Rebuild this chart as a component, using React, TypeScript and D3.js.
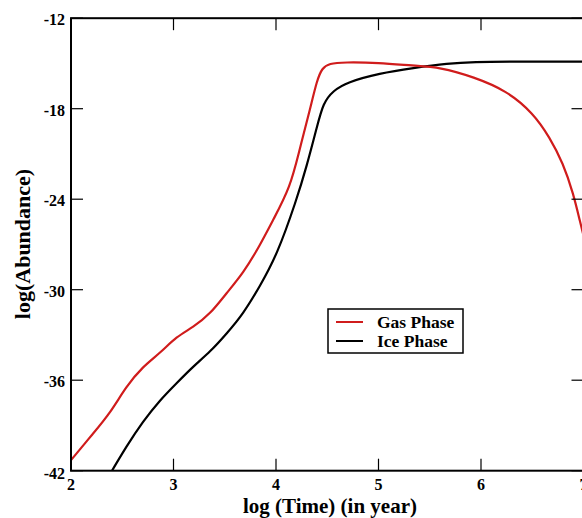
import React from "react";
import * as d3 from "d3";

const gasX = [2.0, 2.22, 2.38, 2.54, 2.7, 2.87, 3.03, 3.19, 3.36, 3.52, 3.68, 3.84, 3.97, 4.14, 4.23, 4.33, 4.4, 4.45, 4.52, 4.66, 5.0, 5.34, 5.6, 5.93, 6.25, 6.51, 6.67, 6.8, 6.9, 6.97, 7.0];
const gasY = [-41.3, -39.5, -38.2, -36.4, -35.1, -34.2, -33.1, -32.5, -31.6, -30.2, -28.9, -27.1, -25.4, -23.2, -20.7, -18.1, -16.1, -15.3, -15.0, -14.92, -14.95, -15.15, -15.25, -15.9, -16.8, -18.3, -19.9, -21.6, -23.6, -25.6, -26.4];
const iceX = [2.4, 2.54, 2.7, 2.87, 3.03, 3.19, 3.36, 3.52, 3.68, 3.84, 4.01, 4.2, 4.3, 4.4, 4.46, 4.56, 4.69, 5.01, 5.34, 5.67, 5.96, 6.2, 7.0];
const iceY = [-42, -40.4, -38.75, -37.3, -36.2, -35.1, -34.1, -32.9, -31.6, -29.8, -27.7, -24.05, -21.8, -19.2, -17.6, -16.8, -16.25, -15.65, -15.3, -15.0, -14.9, -14.88, -14.88];
const xTicks = [2, 3, 4, 5, 6, 7];
const yTicks = [-12, -18, -24, -30, -36, -42];
const seriesNames = ["Gas Phase", "Ice Phase"];
const seriesColors = ["#d01c1c", "#000000"];

export default function App() {
  const W = 582, H = 518;
  const L = 71, R = 583.5, T = 18.2, B = 470.7;
  const x = d3.scaleLinear().domain([2, 7]).range([L, R]);
  const y = d3.scaleLinear().domain([-42, -12]).range([B, T]);
  const line = d3.line<[number, number]>().x(d => x(d[0])).y(d => y(d[1])).curve(d3.curveBasis);
  const gas = gasX.map((v, i) => [v, gasY[i]] as [number, number]);
  const ice = iceX.map((v, i) => [v, iceY[i]] as [number, number]);
  const font = "'Liberation Serif', 'Times New Roman', serif";
  const tl = 12;
  return (
    <svg width={W} height={H} style={{ position: "fixed", left: 0, top: 0, background: "#fff" }} fontFamily={font}>
      <defs>
        <clipPath id="plot"><rect x={L} y={T} width={R - L} height={B - T} /></clipPath>
      </defs>
      <rect x={0} y={0} width={W} height={H} fill="#fff" />
      <g clipPath="url(#plot)" fill="none" strokeWidth={2.2} strokeLinejoin="round">
        <path d={line(ice) || ""} stroke={seriesColors[1]} />
        <path d={line(gas) || ""} stroke={seriesColors[0]} />
      </g>
      {xTicks.map(t => (
        <g key={"x" + t}>
          <line x1={x(t)} x2={x(t)} y1={B} y2={B - tl} stroke="#000" strokeWidth={1.2} />
          <line x1={x(t)} x2={x(t)} y1={T} y2={T + tl} stroke="#000" strokeWidth={1.2} />
          <text x={x(t)} y={490} textAnchor="middle" fontSize={16} fontWeight="bold">{t}</text>
        </g>
      ))}
      {yTicks.map(t => (
        <g key={"y" + t}>
          <line x1={L} x2={L + tl} y1={y(t)} y2={y(t)} stroke="#000" strokeWidth={1.2} />
          <line x1={R} x2={R - tl} y1={y(t)} y2={y(t)} stroke="#000" strokeWidth={1.2} />
          <text x={65} y={y(t) + (t === -42 ? 8 : 7)} textAnchor="end" fontSize={16} fontWeight="bold">{t}</text>
        </g>
      ))}
      <rect x={L} y={T} width={R - L} height={B - T} fill="none" stroke="#000" strokeWidth={2} />
      <text x={330} y={513} textAnchor="middle" fontSize={21} fontWeight="bold">log (Time) (in year)</text>
      <text transform="translate(30,244) rotate(-90)" textAnchor="middle" fontSize={22} fontWeight="bold">log(Abundance)</text>
      <g>
        <rect x={328} y={309} width={135} height={44} fill="#fff" stroke="#000" strokeWidth={1.5} />
        {seriesNames.map((n, i) => (
          <g key={n}>
            <line x1={336} x2={363} y1={322 + i * 19} y2={322 + i * 19} stroke={seriesColors[i]} strokeWidth={2} />
            <text x={377} y={328 + i * 19} fontSize={17.5} fontWeight="bold">{n}</text>
          </g>
        ))}
      </g>
    </svg>
  );
}
